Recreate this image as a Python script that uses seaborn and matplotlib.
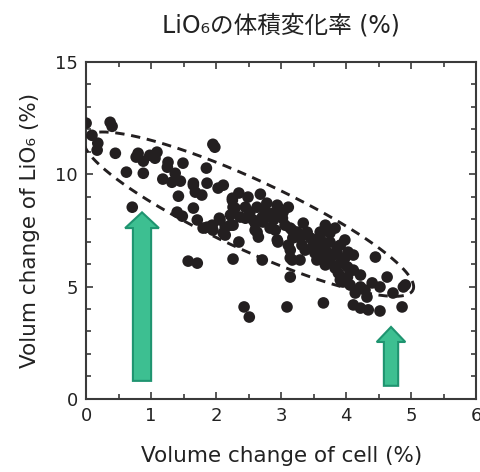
import numpy as np
import pandas as pd
import seaborn as sns
from matplotlib import pyplot as plt

# volume change of cell (%) / volume change of LiO6 (%)
cell_change = [
    0.00, 0.37, 0.40, 0.09, 0.18, 0.17, 0.45, 0.77, 0.80, 0.88, 0.98, 1.09,
    1.06, 1.26, 1.25, 1.49, 1.37, 1.18, 1.32, 1.45, 0.62, 0.88, 1.65, 1.68,
    1.42, 1.65, 1.40, 1.48, 1.71, 0.71, 1.57, 1.71,
    1.95, 1.98, 1.85, 1.65, 1.86, 1.78, 2.03, 2.11, 2.25, 2.35, 2.49, 2.68,
    2.29, 2.45, 2.63, 2.78, 2.94, 3.11, 2.05, 2.22, 2.45, 2.71, 2.88, 3.02,
    1.86, 1.94, 2.14, 2.60, 2.65, 2.91, 2.95, 3.17, 3.18, 3.14, 2.35, 2.26,
    2.71, 2.22, 1.95, 2.14, 2.63, 2.94, 3.11, 3.14, 3.17, 2.43, 2.51, 3.09,
    1.80, 2.26, 2.11, 2.57, 2.72, 2.88, 3.14, 3.25, 3.29, 3.32, 3.14, 3.29,
    2.25, 2.06, 2.26, 2.37, 2.60, 3.03, 2.80, 2.75, 3.06, 2.52, 2.83,
    3.34, 3.40, 3.60, 3.75, 3.45, 3.60, 3.75, 3.65, 3.86, 3.91, 4.03, 4.11,
    3.48, 3.60, 3.71, 3.86, 3.60, 3.75, 3.91, 4.02, 4.11, 3.55, 3.88, 4.02,
    3.91, 4.22, 4.14, 4.32, 4.45, 4.63, 4.40, 4.52, 4.72, 4.88, 4.86, 4.11,
    4.22, 4.34, 4.52, 3.65, 3.95, 4.91, 3.68, 3.83, 3.98, 3.52, 3.68, 3.83,
    4.22, 4.06, 4.29, 3.37, 3.52, 3.80, 3.98,
]
lio6_change = [
    12.27, 12.31, 12.13, 11.73, 11.38, 11.07, 10.93, 10.76, 10.93, 10.58, 10.84, 10.98,
    10.71, 10.53, 10.31, 10.49, 10.04, 9.78, 9.64, 9.69, 10.09, 10.04, 9.51, 9.20,
    9.02, 8.49, 8.31, 8.13, 7.96, 8.53, 6.13, 6.04,
    11.33, 11.20, 10.27, 9.60, 9.60, 9.07, 9.38, 9.51, 8.93, 9.16, 8.98, 9.11,
    8.49, 8.53, 8.53, 8.71, 8.62, 8.53, 8.04, 8.18, 8.04, 8.09, 8.27, 8.04,
    7.64, 7.73, 7.64, 7.51, 7.20, 7.51, 6.98, 7.51, 7.16, 6.62, 6.98, 6.22,
    6.18, 7.73, 7.51, 7.29, 7.42, 7.07, 6.84, 5.42, 6.18, 4.09, 3.64, 4.09,
    7.60, 7.73, 7.38, 7.96, 7.87, 7.96, 7.60, 7.42, 7.16, 6.84, 6.27, 6.18,
    8.84, 7.96, 8.53, 8.09, 7.82, 8.31, 8.18, 8.40, 7.73, 8.31, 7.60,
    7.82, 7.42, 7.42, 7.38, 7.16, 7.16, 6.98, 6.93, 6.76, 6.84, 6.53, 6.40,
    6.76, 6.71, 6.53, 6.49, 6.27, 6.18, 6.04, 5.87, 5.73, 6.18, 5.60, 5.42,
    5.29, 4.98, 4.71, 4.53, 6.31, 5.42, 5.16, 4.98, 4.71, 4.98, 4.09, 4.18,
    4.04, 3.96, 3.91, 4.27, 5.20, 5.07, 7.73, 7.60, 7.07, 6.49, 5.96, 5.82,
    5.51, 5.07, 4.84, 6.62, 7.07, 6.40, 6.27,
]

# dashed envelope (center, half axes in display px, tilt)
ell_center = (2.5, 8.22)
ell_axes_px = (181, 35)
ell_angle = -24.8

# arrows: x center, y start, y tip, body width, head width, head length
arrows = [
    (0.86, 0.80, 8.30, 0.28, 0.52, 0.70),
    (4.69, 0.58, 3.20, 0.22, 0.44, 0.67),
]

df = pd.DataFrame({'cell': cell_change, 'lio6': lio6_change})

sns.set_style('ticks')
plt.rcParams['font.family'] = ['DejaVu Sans', 'Noto Sans CJK JP']
plt.rcParams['axes.edgecolor'] = '#3a3a3a'

fig = plt.figure(figsize=(4.81, 4.72), dpi=100)
ax = fig.add_axes([0.179, 0.155, 0.811, 0.714])

sns.scatterplot(x='cell', y='lio6', data=df, ax=ax, s=70, color='#231f20',
                edgecolor='none', zorder=3)

# ellipse built in pixel space then mapped back to data units
px_x, px_y = 65.0, 22.5
t = np.linspace(0, 2 * np.pi, 400)
th = np.deg2rad(ell_angle)
a, b = ell_axes_px
u = a * np.cos(t) * np.cos(th) - b * np.sin(t) * np.sin(th)
v = a * np.cos(t) * np.sin(th) + b * np.sin(t) * np.cos(th)
ax.plot(ell_center[0] + u / px_x, ell_center[1] + v / px_y, color='#231f20',
        lw=2.1, linestyle=(0, (3.2, 2.3)), zorder=4)

for xc, y0, y1, w, hw, hl in arrows:
    ax.arrow(xc, y0, 0, y1 - y0, width=w, head_width=hw, head_length=hl,
             length_includes_head=True, facecolor='#3dbf91',
             edgecolor='#1f9470', lw=1.5, zorder=5)

ax.set_xlim(0, 6)
ax.set_ylim(0, 15)
ax.set_xticks(range(0, 7))
ax.set_yticks([0, 5, 10, 15])
ax.set_xticks(np.arange(0.5, 6, 1), minor=True)
ax.set_yticks([y for y in range(16) if y % 5], minor=True)
ax.tick_params(which='both', direction='in', top=True, right=True,
               color='#3a3a3a', width=1.2, labelsize=13, pad=6,
               labelcolor='#222222')
ax.tick_params(which='major', length=5)
ax.tick_params(which='minor', length=3.5)
for sp in ax.spines.values():
    sp.set_linewidth(1.5)

ax.set_xlabel('Volume change of cell (%)', fontsize=15.5, labelpad=15,
              color='#222222')
ax.set_ylabel('Volum change of LiO\u2086 (%)', fontsize=15.5, labelpad=11,
              color='#222222')
ax.set_title('LiO\u2086の体積変化率 (%)', fontsize=17, pad=21, color='#222222')

fig.savefig('out.png', dpi=100)
